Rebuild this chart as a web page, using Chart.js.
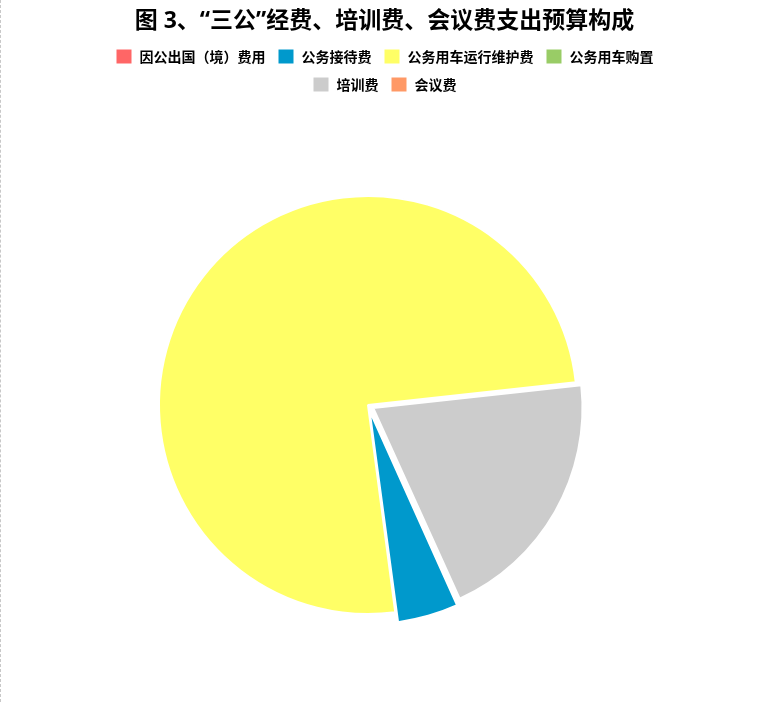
<!DOCTYPE html>
<html>
<head>
<meta charset="utf-8">
<script src="https://cdn.jsdelivr.net/npm/chart.js@4.4.1/dist/chart.umd.min.js"></script>
<style>
  html, body { margin: 0; padding: 0; background: #fff; }
  #wrap { position: relative; width: 769px; height: 702px; }
  #edge { position: absolute; left: 0; top: 0; bottom: 0; border-left: 1px dashed #c8c8c8; }
  canvas { position: absolute; left: 0; top: 0; }
</style>
</head>
<body>
<div id="wrap">
  <div id="edge"></div>
  <canvas id="chart" width="769" height="702"></canvas>
</div>
<script>
// categories and their share of the budget (%)
const categories = ['因公出国（境）费用', '公务接待费', '公务用车运行维护费', '公务用车购置', '培训费', '会议费'];
const shares = [0, 4.7, 75.35, 0, 19.95, 0];
const colors = ['#FF6666', '#0099CC', '#FFFF66', '#99CC66', '#CCCCCC', '#FF9966'];
const explode = [0, 24, 0, 0, 24, 0];

// where the pie sits on the page
const pieBox = { cx: 368, cy: 405, size: 444 };

const placePie = {
    id: 'placePie',
    afterLayout(chart) {
        const a = chart.chartArea;
        a.left = pieBox.cx - pieBox.size / 2;
        a.right = pieBox.cx + pieBox.size / 2;
        a.top = pieBox.cy - pieBox.size / 2;
        a.bottom = pieBox.cy + pieBox.size / 2;
        a.width = a.right - a.left;
        a.height = a.bottom - a.top;
    }
};

const ctx = document.getElementById('chart').getContext('2d');
new Chart(ctx, {
    type: 'pie',
    data: {
        labels: categories,
        datasets: [{
            data: shares,
            backgroundColor: colors,
            borderColor: '#ffffff',
            borderWidth: 2,
            offset: explode
        }]
    },
    options: {
        responsive: false,
        animation: false,
        rotation: 155.6,
        layout: { padding: { left: 84, right: 84 } },
        plugins: {
            title: {
                display: true,
                text: '图 3、“三公”经费、培训费、会议费支出预算构成',
                color: '#000',
                font: { family: '"Noto Sans", "Noto Sans CJK SC", sans-serif', size: 23, weight: 'bold' },
                padding: { top: 8, bottom: 1 }
            },
            legend: {
                position: 'top',
                labels: {
                    color: '#000',
                    boxWidth: 17,
                    boxHeight: 16,
                    padding: 12,
                    font: { family: '"Noto Sans CJK SC", "Noto Sans", sans-serif', size: 14, weight: 'bold' }
                }
            },
            tooltip: { enabled: false }
        }
    },
    plugins: [placePie]
});
</script>
</body>
</html>
